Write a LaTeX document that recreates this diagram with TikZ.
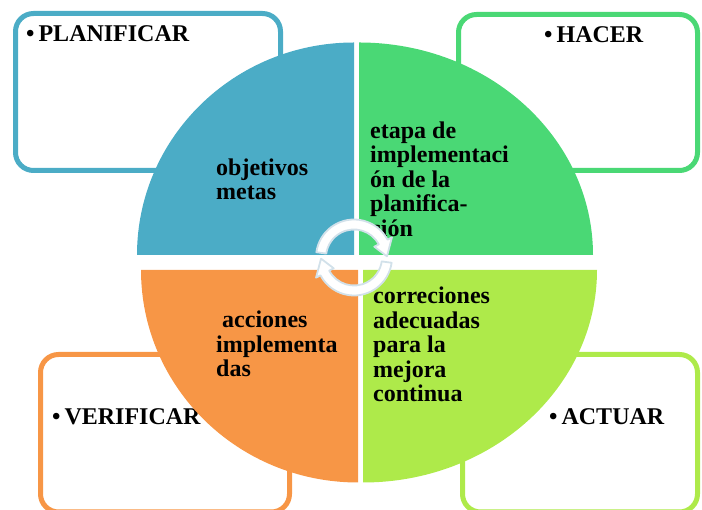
\documentclass[tikz,border=0pt]{standalone}
\usepackage{fontspec}
\setmainfont{Liberation Serif}
\definecolor{planblue}{HTML}{4BACC6}
\definecolor{hacergreen}{HTML}{4AD875}
\definecolor{verifyorange}{HTML}{F79646}
\definecolor{actuarlime}{HTML}{AEEA4A}
\definecolor{arrowgray}{HTML}{D2E1EA}
\newcommand{\PDCALEFTRX}{217}
\newcommand{\PDCARIGHTRX}{234}
\newcommand{\PDCARY}{212.5}
\newcommand{\PDCAOUTR}{38}
\newcommand{\PDCAINR}{28}
\newcommand{\PDCAMIDR}{33}
\tikzset{
    boxline/.style={line width=5pt, rounded corners=18pt},
    boxtext/.style={anchor=base west, inner sep=0pt},
    quadtext/.style={anchor=base west, inner sep=0pt, align=left},
    cyclearrow/.style={fill=white, draw=arrowgray, line width=1.8pt, line join=round}
}

\begin{document}
\begin{tikzpicture}[x=1pt, y=1pt, font=\bfseries\fontsize{24}{24.5}\selectfont]
        \useasboundingbox (0, 0) rectangle (702, 510);

        % 四个方框
        \draw[boxline, planblue] (15.5, 339.5) rectangle (280.5, 496.5);
        \node[boxtext] (planificar) at (26, 468) {\textbullet\,PLANIFICAR};
        \draw[boxline, hacergreen] (458.5, 339.5) rectangle (697.5, 495.5);
        \node[boxtext] (hacer) at (544, 467) {\textbullet\,HACER};
        \draw[boxline, verifyorange] (40.5, 155.5) rectangle (289.5, -2);
        \node[boxtext] (verificar) at (52, 85) {\textbullet\,VERIFICAR};
        \draw[boxline, actuarlime] (462.5, 155.5) rectangle (697.5, -2);
        \node[boxtext] (actuar) at (549, 85) {\textbullet\,ACTUAR};

        % 圆的四个扇区
        \fill[planblue] (354, 255) -- ++(-\PDCALEFTRX, 0) arc[start angle=180, end angle=90, x radius=\PDCALEFTRX, y radius=\PDCARY] -- cycle;
        \fill[hacergreen] (359, 255) -- ++(0, \PDCARY) arc[start angle=90, end angle=0, x radius=\PDCARIGHTRX, y radius=\PDCARY] -- cycle;
        \fill[verifyorange] (358, 240) -- ++(-\PDCALEFTRX, 0) arc[start angle=180, end angle=270, x radius=\PDCALEFTRX, y radius=\PDCARY] -- cycle;
        \fill[actuarlime] (363, 240) -- ++(\PDCARIGHTRX, 0) arc[start angle=0, end angle=-90, x radius=\PDCARIGHTRX, y radius=\PDCARY] -- cycle;

        % 扇区文字 (基线在最后一行)
        \node[quadtext] (objetivos) at (216, 310) {objetivos\\metas};
        \node[quadtext] (etapa) at (370, 273.5) {etapa de\\implementaci\\ón de la\\planifica-\\ción};
        \node[quadtext] (acciones) at (216, 133) {\hspace{6pt}acciones\\implementa\\das};
        \node[quadtext] (correciones) at (373, 108) {correciones\\adecuadas\\para la\\mejora\\continua};

        % 中间的循环箭头
        \begin{scope}[shift={(354, 252.5)}]
            \draw[cyclearrow] (172:\PDCAOUTR) arc[start angle=172, end angle=28, radius=\PDCAOUTR] -- (28:43) -- (2:\PDCAMIDR) -- (28:23) -- (28:\PDCAINR) arc[start angle=28, end angle=172, radius=\PDCAINR] -- cycle; % 上面的箭头
            \draw[cyclearrow] (-8:\PDCAOUTR) arc[start angle=-8, end angle=-152, radius=\PDCAOUTR] -- (-152:43) -- (-178:\PDCAMIDR) -- (-152:23) -- (-152:\PDCAINR) arc[start angle=-152, end angle=-8, radius=\PDCAINR] -- cycle; % 下面的箭头
        \end{scope}

    \end{tikzpicture}
\end{document}
